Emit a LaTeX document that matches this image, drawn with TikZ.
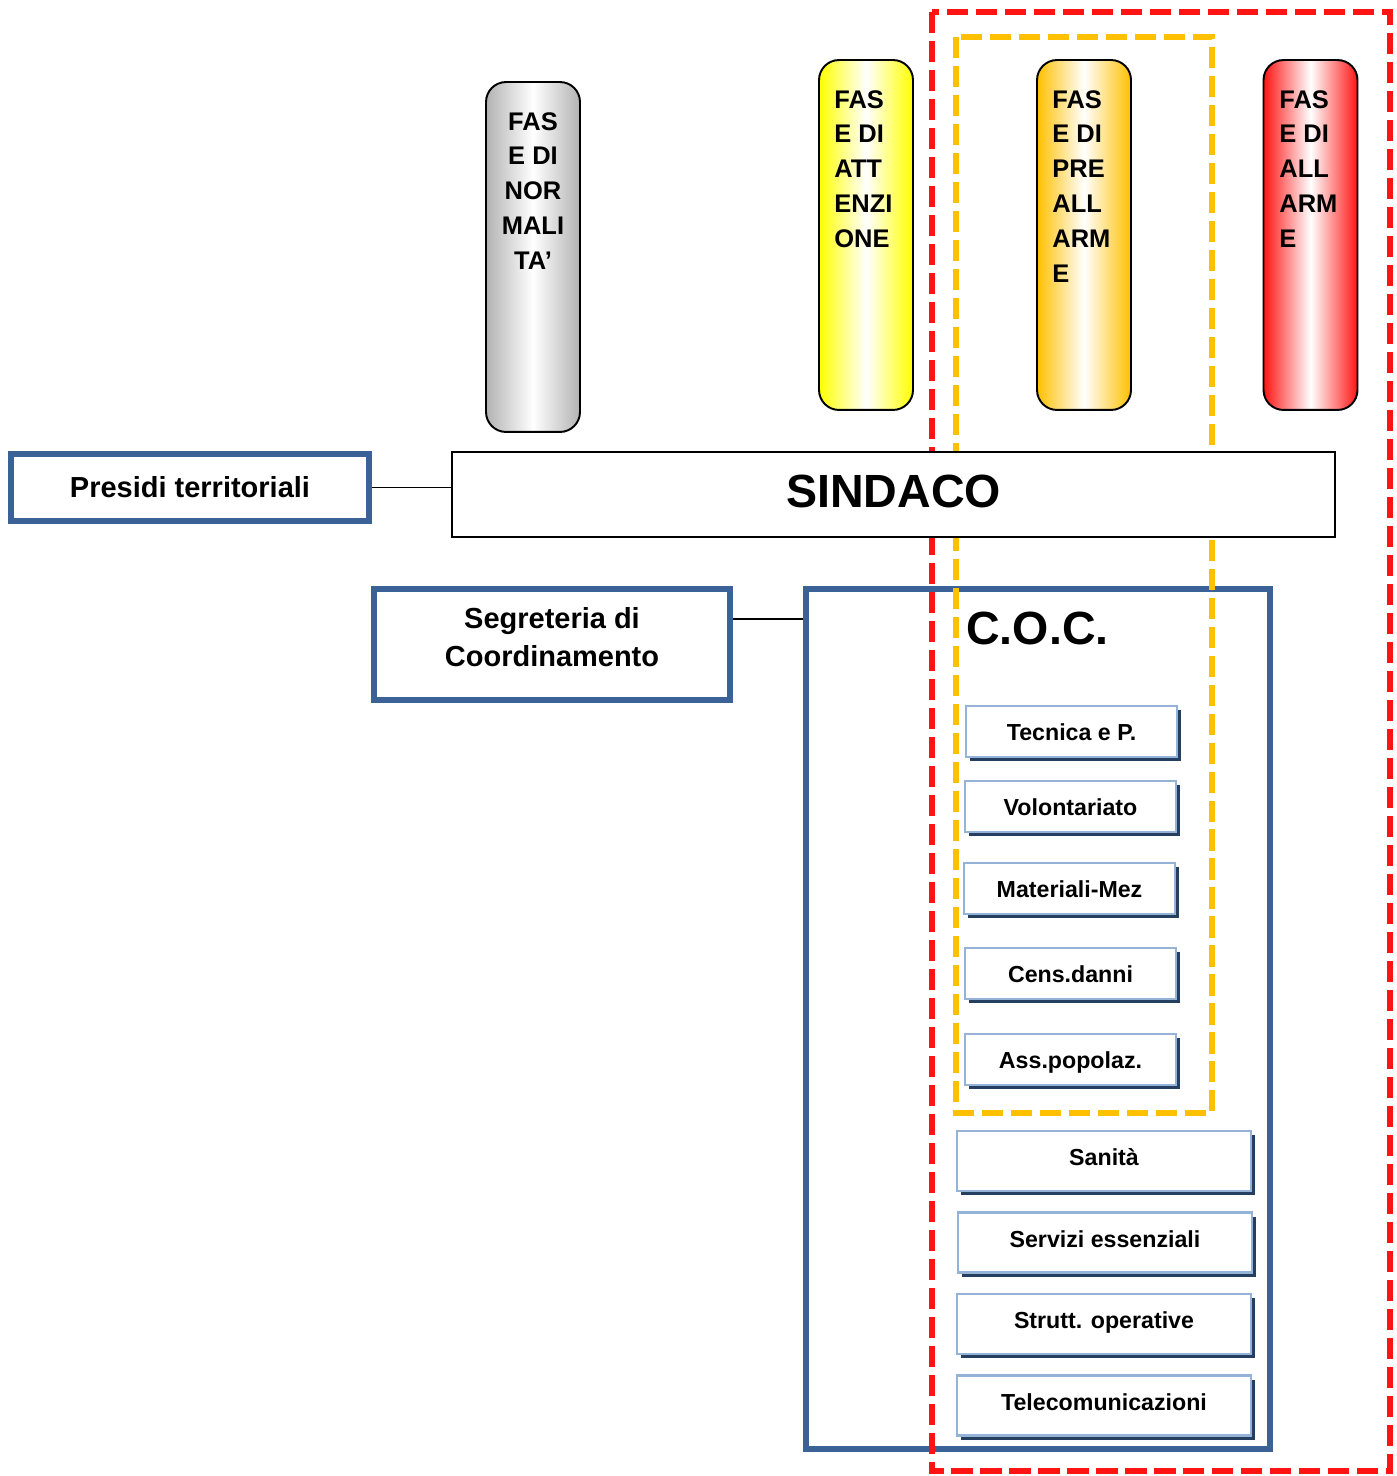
\documentclass[tikz,border=0pt]{standalone}
\usepackage{fontspec}
\setmainfont{Liberation Sans}
\usetikzlibrary{shadows}

\definecolor{cocblue}{RGB}{58,98,150}
\definecolor{boxedge}{RGB}{149,179,215}
\definecolor{boxshadow}{RGB}{36,63,96}
\definecolor{prealarm}{RGB}{255,192,0}
\definecolor{alarm}{RGB}{255,20,20}

\tikzset{
  phase/.style={draw=black, line width=1.1pt, rounded corners=0.4cm,
    minimum width=1.88cm, minimum height=7cm},
  phasetext/.style={inner sep=0pt, font=\bfseries\fontsize{14.5}{19.8}\selectfont},
  bluebox/.style={draw=cocblue, line width=3.4pt, fill=white,
    font=\bfseries\fontsize{16.5}{21.5}\selectfont},
  unitbox/.style={draw=boxedge, line width=1.6pt, fill=white,
    general shadow={fill=boxshadow, shadow xshift=2.3pt, shadow yshift=-2.3pt},
    font=\bfseries\fontsize{13.2}{15}\selectfont},
  phaseframe/.style={line width=3.4pt, dash pattern=on 12pt off 4.5pt}
}

\begin{document}
\begin{tikzpicture}[x=0.02cm, y=-0.02cm]
  \useasboundingbox (0,0) rectangle (1396,1476);

  % C.O.C. and its functions
  \node (coc) [bluebox, fill=none, minimum width=9.28cm, minimum height=17.2cm] at (1038,1019) {};
  \node (coctitle) [anchor=west, inner sep=0pt, font=\bfseries\fontsize{26.5}{30}\selectfont] at (966,628) {C.O.C.};
  \begin{scope}[every node/.append style={unitbox, minimum width=4.22cm, minimum height=1.02cm,
      text height=0.34cm, text depth=0cm}]
    \node (tec) at (1071.5,731.5) {Tecnica e P.};
    \node (vol) at (1070.5,806.5) {Volontariato};
    \node (mat) at (1069.5,888.5) {Materiali-Mez};
    \node (cens) at (1070.5,973.5) {Cens.danni};
    \node (ass) at (1070.5,1059.5) {Ass.popolaz.};
  \end{scope}
  \begin{scope}[every node/.append style={unitbox, minimum width=5.88cm, minimum height=1.2cm,
      text height=0.34cm, text depth=0.16cm}]
    \node (san) at (1104,1161) {Sanità};
    \node (serv) at (1105,1242.5) {Servizi essenziali};
    \node (strutt) at (1104,1324) {Strutt. operative};
    \node (tlc) at (1104,1405.5) {Telecomunicazioni};
  \end{scope}

  % side boxes
  \node (pres) [bluebox, minimum width=7.16cm, minimum height=1.34cm] at (190,487.5) {Presidi territoriali};
  \node (segr) [bluebox, minimum width=7.12cm, minimum height=2.22cm] at (552,644.5) {};
  \node (segrtext) [align=center, font=\bfseries\fontsize{16.5}{21.5}\selectfont] at (552,637) {Segreteria di\\Coordinamento};

  % phase frames
  \draw[phaseframe, draw=alarm] (932,12) rectangle (1390,1471);
  \draw[phaseframe, draw=prealarm] (956,37) rectangle (1212,1113);

  \node (sind) [draw=black, line width=1.1pt, fill=white, minimum width=17.66cm, minimum height=1.7cm,
    text height=0.67cm, text depth=0.16cm,
    font=\bfseries\fontsize{26.5}{30}\selectfont] at (893.5,494.5) {SINDACO};

  \coordinate (segrline) at ([yshift=0.51cm]segr.east);
  \draw[line width=1pt] (pres.east) -- (pres.east -| sind.west);
  \draw[line width=1pt] (segrline) -- (segrline -| coc.west);

  % phases
  \node (norm) [phase, left color=gray!60, right color=gray!60, middle color=white] at (533,257) {};
  \node (att) [phase, left color=yellow, right color=yellow, middle color=white] at (866,235) {};
  \node (pre) [phase, left color=prealarm, right color=prealarm, middle color=white] at (1084,235) {};
  \node (all) [phase, left color=alarm, right color=alarm, middle color=white] at (1310.5,235) {};
  \node (normtext) [phasetext, anchor=north, align=center] at (533,112) {FAS\\E DI\\NOR\\MALI\\TA’};
  \node (atttext) [phasetext, anchor=north west, align=left] at (834,90) {FAS\\E DI\\ATT\\ENZI\\ONE};
  \node (pretext) [phasetext, anchor=north west, align=left] at (1052,90) {FAS\\E DI\\PRE\\ALL\\ARM\\E};
  \node (alltext) [phasetext, anchor=north west, align=left] at (1279,90) {FAS\\E DI\\ALL\\ARM\\E};
\end{tikzpicture}
\end{document}
